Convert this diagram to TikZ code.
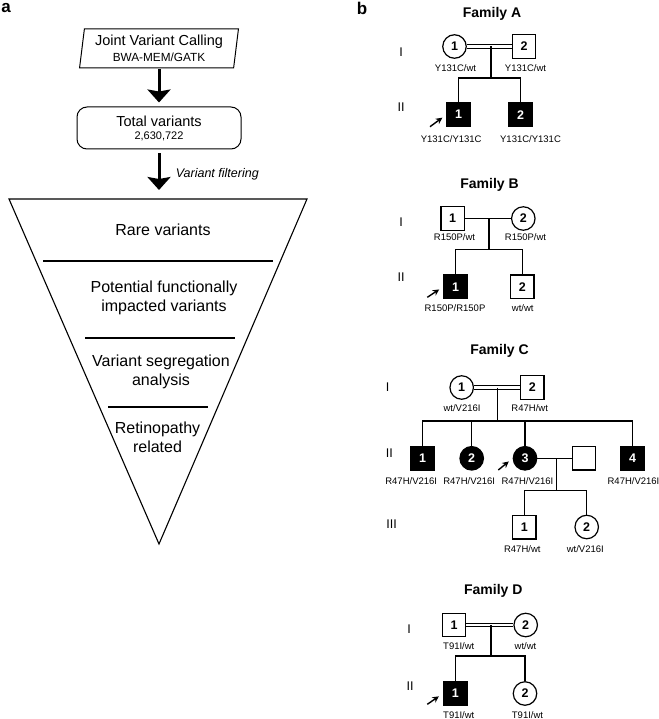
\documentclass[tikz,border=0pt]{standalone}
\usepackage{fontspec}
\setmainfont{Liberation Sans}
\usetikzlibrary{arrows.meta,shapes.geometric}

\begin{document}
\begin{tikzpicture}[x=1pt,y=-1pt]
		% définition des styles
		\tikzstyle{panneau}=[font=\fontsize{17}{20}\selectfont\bfseries]
		\tikzstyle{appel}=[trapezium,draw,line width=1pt,trapezium left angle=81,trapezium right angle=99,trapezium stretches=true,minimum width=159,minimum height=39,inner sep=0pt,align=center,font=\fontsize{14.5}{15.5}\selectfont]
		\tikzstyle{total}=[rectangle,draw,line width=1pt,rounded corners=10pt,minimum width=164,minimum height=42,inner sep=0pt,align=center,font=\fontsize{14.5}{13}\selectfont]
		\tikzstyle{grosfleche}=[-{Stealth[width=23pt,length=13pt,inset=2pt]},line width=3pt]
		\tikzstyle{etape}=[align=center,font=\fontsize{16}{19}\selectfont]
		\tikzstyle{trait}=[line width=1.2pt]
		\tikzstyle{entonnoir}=[line width=1.1pt]
		\tikzstyle{titre}=[font=\fontsize{14}{16}\selectfont\bfseries]
		\tikzstyle{generation}=[font=\fontsize{12.6}{14}\selectfont]
		\tikzstyle{homme}=[rectangle,draw,line width=1.2pt,minimum size=23.5,inner sep=0pt,font=\fontsize{12.5}{14}\selectfont\bfseries]
		\tikzstyle{femme}=[circle,draw,line width=1.2pt,minimum size=23.5,inner sep=0pt,font=\fontsize{12.5}{14}\selectfont\bfseries]
		\tikzstyle{atteint}=[fill=black,text=white]
		\tikzstyle{genotype}=[font=\fontsize{9.5}{11}\selectfont]
		\tikzstyle{consanguin}=[draw=black,double=white,double distance=2.5pt,line width=1pt]
		\tikzstyle{proposant}=[-{Stealth[length=6.5pt,width=6.5pt]},line width=1.4pt,shorten >=5pt]
		\useasboundingbox (0,0) rectangle (658,719);
		% panneau a
		\node[panneau] (pa) at (6,8) {a};
		\node[appel] (jvc) at (159,48.5) {Joint Variant Calling\\{\fontsize{11.8}{13}\selectfont BWA-MEM/GATK}};
		\node[total] (tot) at (159,128) {Total variants\\{\fontsize{11}{13}\selectfont 2,630,722}};
		\coordinate (fl) at (9,199);
		\coordinate (fr) at (307,199);
		\coordinate (fpointe) at (159,544);
		\coordinate (fhaut) at (159,199);
		\draw[grosfleche,shorten <=1pt,shorten >=4pt] (jvc) -- (tot);
		\draw[grosfleche,shorten <=4pt,shorten >=9pt] (tot) -- (fhaut)
			node[midway,right=12pt,font=\fontsize{12.5}{14}\selectfont\itshape]{Variant filtering};
		\draw[entonnoir] (fl) -- (fr) -- (fpointe) -- cycle;
		\draw[line width=1.6pt] (43,261) -- (273,261);
		\draw[line width=1.6pt] (85,338) -- (235,338);
		\draw[line width=1.6pt] (108,407) -- (208,407);
		\node[etape] (rare) at (163,230) {Rare variants};
		\node[etape] (impact) at (164,297.5) {Potential functionally\\impacted variants};
		\node[etape] (segr) at (161,371.5) {Variant segregation\\analysis};
		\node[etape] (retin) at (157.5,437.5) {Retinopathy\\related};
		% panneau b
		\node[panneau] (pb) at (362,8) {b};
		% famille A
		\node[titre] (famA) at (492,14) {Family A};
		\node[generation] (aI) at (401,52) {I};
		\node[generation] (aII) at (401,107) {II};
		\node[femme] (a1) at (454.5,46.5) {1};
		\node[homme] (a2) at (524,46.5) {2};
		\node[homme,atteint] (a3) at (458.7,114.7) {1};
		\node[homme,atteint] (a4) at (520.7,114.7) {2};
		\coordinate (aM) at (491,46.5);
		\coordinate (aS) at (491,78);
		\coordinate (aP) at (430,126.7);
		\draw[consanguin] (a1) -- (a2);
		\draw[trait] (aM) -- (aS);
		\draw[trait] (a3) |- (aS) -| (a4);
		\draw[proposant] (aP) -- (a3.west);
		\node[genotype] (a1g) at (455.5,68.3) {Y131C/wt};
		\node[genotype] (a2g) at (525.5,68.3) {Y131C/wt};
		\node[genotype] (a3g) at (451.2,139) {Y131C/Y131C};
		\node[genotype] (a4g) at (530.5,139) {Y131C/Y131C};
		% famille B
		\node[titre] (famB) at (489.5,185) {Family B};
		\node[generation] (bI) at (401,221.7) {I};
		\node[generation] (bII) at (401,276.7) {II};
		\node[homme] (b1) at (452.7,218.5) {1};
		\node[femme] (b2) at (523.3,218.5) {2};
		\node[homme,atteint] (b3) at (455.7,286.7) {1};
		\node[homme] (b4) at (522.3,286.7) {2};
		\coordinate (bM) at (489,218.5);
		\coordinate (bS) at (489,249.3);
		\coordinate (bP) at (427.3,297.3);
		\draw[trait] (b1) -- (b2);
		\draw[trait] (bM) -- (bS);
		\draw[trait] (b3) |- (bS) -| (b4);
		\draw[proposant] (bP) -- (b3.west);
		\node[genotype] (b1g) at (454.5,236.7) {R150P/wt};
		\node[genotype] (b2g) at (525.5,236.7) {R150P/wt};
		\node[genotype] (b3g) at (455,307.7) {R150P/R150P};
		\node[genotype] (b4g) at (522.8,307.7) {wt/wt};
		% famille C
		\node[titre] (famC) at (499.5,351) {Family C};
		\node[generation] (cI) at (387.7,386.7) {I};
		\node[generation] (cII) at (389.3,453.3) {II};
		\node[generation] (cIII) at (391.7,524) {III};
		\node[femme] (c1) at (461.7,387.5) {1};
		\node[homme] (c2) at (532.3,387.5) {2};
		\node[homme,atteint] (c3) at (422.7,458.3) {1};
		\node[femme,atteint] (c4) at (471.7,458.3) {2};
		\node[femme,atteint] (c5) at (525,458.3) {3};
		\node[homme] (c6) at (584,458.3) {};
		\node[homme,atteint] (c7) at (632.7,458.3) {4};
		\node[homme] (c8) at (524.3,527.3) {1};
		\node[femme] (c9) at (586.7,527) {2};
		\coordinate (cM) at (497.7,387.5);
		\coordinate (cS) at (497.7,421);
		\coordinate (cM2) at (556.7,458.3);
		\coordinate (cS2) at (556.7,490.7);
		\coordinate (cP) at (498.3,470);
		\draw[consanguin] (c1) -- (c2);
		\draw[trait] (cM) -- (cS);
		\draw[trait] (c3) |- (cS) -| (c7);
		\draw[trait] (c4) -- (c4 |- cS);
		\draw[trait] (c5) -- (c5 |- cS);
		\draw[trait] (c5) -- (c6);
		\draw[trait] (cM2) -- (cS2);
		\draw[trait] (c8) |- (cS2) -| (c9);
		\draw[proposant] (cP) -- (c5.west);
		\node[genotype] (c1g) at (462,408.3) {wt/V216I};
		\node[genotype] (c2g) at (529.7,408.3) {R47H/wt};
		\node[genotype] (c3g) at (411.2,481) {R47H/V216I};
		\node[genotype] (c4g) at (469.2,481) {R47H/V216I};
		\node[genotype] (c5g) at (527.5,481) {R47H/V216I};
		\node[genotype] (c7g) at (633.5,481) {R47H/V216I};
		\node[genotype] (c8g) at (522.3,549) {R47H/wt};
		\node[genotype] (c9g) at (585.3,549) {wt/V216I};
		% famille D
		\node[titre] (famD) at (493.3,591) {Family D};
		\node[generation] (dI) at (409,629.3) {I};
		\node[generation] (dII) at (410,685.7) {II};
		\node[homme] (d1) at (454,625) {1};
		\node[femme] (d2) at (525.7,625) {2};
		\node[homme,atteint] (d3) at (455.3,693.5) {1};
		\node[femme] (d4) at (525,693.5) {2};
		\coordinate (dM) at (491,625);
		\coordinate (dS) at (491,656);
		\coordinate (dP) at (427.3,704.3);
		\draw[consanguin] (d1) -- (d2);
		\draw[trait] (dM) -- (dS);
		\draw[trait] (d3) |- (dS) -| (d4);
		\draw[proposant] (dP) -- (d3.west);
		\node[genotype] (d1g) at (458.8,646) {T91I/wt};
		\node[genotype] (d2g) at (525.5,646) {wt/wt};
		\node[genotype] (d3g) at (458.8,715) {T91I/wt};
		\node[genotype] (d4g) at (527.5,715) {T91I/wt};
	\end{tikzpicture}
\end{document}
